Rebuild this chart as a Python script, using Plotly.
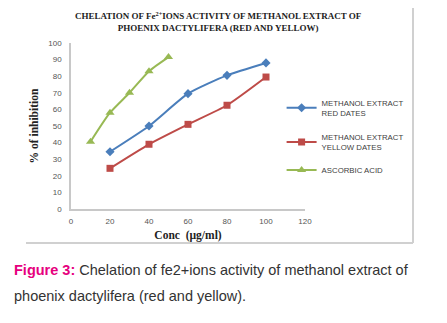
import plotly.graph_objects as go

# Concentrations (µg/ml) and % inhibition for each extract
conc_dates = [20, 40, 60, 80, 100]
red_dates = [34.5, 50, 69.5, 80.5, 88]
yellow_dates = [24.5, 39, 51, 62.5, 79.5]

conc_ascorbic = [10, 20, 30, 40, 50]
ascorbic_acid = [40.5, 58, 70, 83, 91.5]

x_ticks = [0, 20, 40, 60, 80, 100, 120]
y_ticks = [0, 10, 20, 30, 40, 50, 60, 70, 80, 90, 100]

serif = "Times New Roman, Liberation Serif, serif"
sans = "Arial, Liberation Sans, sans-serif"

fig = go.Figure()
fig.add_trace(go.Scatter(
    x=conc_dates, y=red_dates, mode="lines+markers",
    name="METHANOL EXTRACT<br>RED DATES", legendgroup="a",
    line=dict(color="#4a7ebb", width=2, shape="spline", smoothing=0.6),
    marker=dict(symbol="diamond", size=7, color="#4a7ebb"),
))
fig.add_trace(go.Scatter(
    x=conc_dates, y=yellow_dates, mode="lines+markers",
    name="METHANOL EXTRACT<br>YELLOW DATES", legendgroup="b",
    line=dict(color="#be4b48", width=2, shape="spline", smoothing=0.6),
    marker=dict(symbol="square", size=7, color="#be4b48"),
))
fig.add_trace(go.Scatter(
    x=conc_ascorbic, y=ascorbic_acid, mode="lines+markers",
    name="ASCORBIC ACID", legend="legend2",
    line=dict(color="#98b954", width=2, shape="spline", smoothing=0.6),
    marker=dict(symbol="triangle-up", size=8, color="#98b954"),
))

legend_font = dict(family=sans, size=7.8, color="#404040")

fig.update_layout(
    width=447, height=323, autosize=False,
    margin=dict(l=71, r=142, t=43, b=114),
    paper_bgcolor="white", plot_bgcolor="white",
    showlegend=True,
    legend=dict(
        x=0.90, y=0.71, xanchor="left", yanchor="top",
        font=legend_font, tracegroupgap=11, itemwidth=30,
        bgcolor="rgba(0,0,0,0)",
    ),
    legend2=dict(
        x=0.90, y=(209 - 170) / 166, xanchor="left", yanchor="middle",
        font=legend_font, itemwidth=30, bgcolor="rgba(0,0,0,0)",
    ),
    title=dict(
        text="CHELATION OF Fe<sup>2+</sup>IONS ACTIVITY OF METHANOL EXTRACT OF<br>PHOENIX DACTYLIFERA (RED AND YELLOW)",
        x=0.488, xanchor="center", y=0.94, yanchor="top",
        font=dict(family=serif, size=9, color="#222222", weight="bold"),
    ),
    xaxis=dict(
        range=[0, 120], tickvals=x_ticks, showgrid=False, zeroline=False,
        showline=True, linecolor="#c8c8c8", linewidth=1.5,
        tickfont=dict(family=sans, size=8, color="#555555"),
        ticks="", ticklabelstandoff=4,
        title=dict(text="Conc  (µg/ml)", standoff=6,
                   font=dict(family=serif, size=11.5, color="#222222", weight="bold")),
    ),
    yaxis=dict(
        range=[0, 100], tickvals=y_ticks, showgrid=False, zeroline=False,
        showline=True, linecolor="#c8c8c8", linewidth=1.5,
        tickfont=dict(family=sans, size=8, color="#555555"),
        ticks="", ticklabelstandoff=6,
        title=dict(text="% of inhibition", standoff=7,
                   font=dict(family=serif, size=11.5, color="#222222", weight="bold")),
    ),
)

# Chart frame edges (right and bottom)
fig.add_shape(type="line", xref="paper", yref="paper",
              x0=(413 - 71) / 234, x1=(413 - 71) / 234,
              y0=(209 - 243) / 166, y1=(209 - 8) / 166,
              line=dict(color="#d0d0d0", width=2))
fig.add_shape(type="line", xref="paper", yref="paper",
              x0=(26 - 71) / 234, x1=(413 - 71) / 234,
              y0=(209 - 243) / 166, y1=(209 - 243) / 166,
              line=dict(color="#d0d0d0", width=2))

# Figure caption, one annotation per line
caption_lines = [
    "<b><span style='color:#e6007e'>Figure 3:</span></b> Chelation of fe2+ions activity of methanol extract of",
    "phoenix dactylifera (red and yellow).",
]
for i, line in enumerate(caption_lines):
    fig.add_annotation(
        xref="paper", yref="paper", x=(12 - 71) / 234, y=(209 - 270 - 26 * i) / 166,
        xanchor="left", yanchor="middle", align="left", showarrow=False,
        text=line,
        font=dict(family=sans, size=14.5, color="#333333"),
    )

fig.write_html("out.html")
